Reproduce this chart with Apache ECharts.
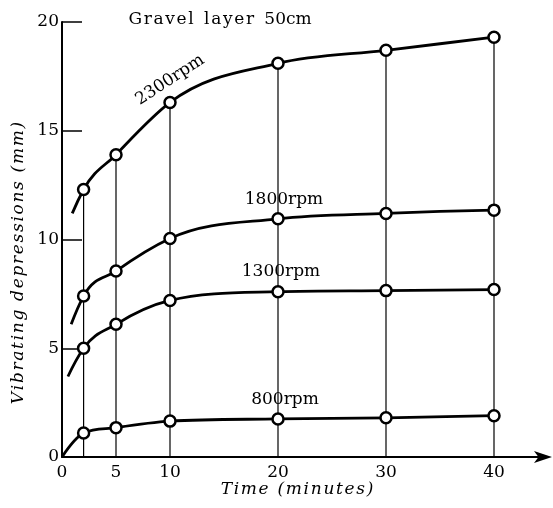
<!DOCTYPE html>
<html><head><meta charset="utf-8">
<script src="https://cdn.jsdelivr.net/npm/echarts@6/dist/echarts.min.js"></script>
<style>html,body{margin:0;padding:0;background:#fff}#c{width:553px;height:508px}</style>
</head><body><div id="c"></div>
<script>
// Data
const times = [2, 5, 10, 20, 30, 40];
const rpm2300 = [12.3, 13.9, 16.3, 18.1, 18.7, 19.3];
const rpm1800 = [7.4, 8.55, 10.05, 10.95, 11.2, 11.35];
const rpm1300 = [5.0, 6.1, 7.2, 7.6, 7.65, 7.7];
const rpm800 = [1.1, 1.35, 1.65, 1.75, 1.8, 1.9];
// curve starting points (no markers)
const start2300 = [0.95, 11.2];
const start1800 = [0.85, 6.1];
const start1300 = [0.55, 3.7];
const start800 = [0, 0];
const xTickLabels = [0, 5, 10, 20, 30, 40];
const seriesNames = ['2300rpm', '1800rpm', '1300rpm', '800rpm'];
const titleText = 'Gravel layer 50cm';
const xName = 'Time (minutes)';
const yName = 'Vibrating depressions (mm)';

const FONT = 'DejaVu Serif';
const spaced = s => s.split('').join('\u200A');

// monotone cubic path through pixel points
function monotonePath(P) {
  const n = P.length;
  const h = [], d = [];
  for (let i = 0; i < n - 1; i++) {
    h.push(P[i + 1][0] - P[i][0]);
    d.push((P[i + 1][1] - P[i][1]) / h[i]);
  }
  const m = new Array(n);
  for (let i = 1; i < n - 1; i++) {
    if (d[i - 1] * d[i] <= 0) m[i] = 0;
    else {
      let v = (h[i] * d[i - 1] + h[i - 1] * d[i]) / (h[i - 1] + h[i]);
      const lim = 3 * Math.min(Math.abs(d[i - 1]), Math.abs(d[i]));
      if (Math.abs(v) > lim) v = Math.sign(v) * lim;
      m[i] = v;
    }
  }
  function endSlope(h0, h1, d0, d1) {
    let s = ((2 * h0 + h1) * d0 - h0 * d1) / (h0 + h1);
    if (s * d0 <= 0) s = 0;
    else if (Math.abs(s) > Math.abs(3 * d0)) s = 3 * d0;
    return s;
  }
  m[0] = n > 2 ? endSlope(h[0], h[1], d[0], d[1]) : d[0];
  m[n - 1] = n > 2 ? endSlope(h[n - 2], h[n - 3], d[n - 2], d[n - 3]) : d[n - 2];
  let s = 'M' + P[0][0] + ' ' + P[0][1];
  for (let i = 0; i < n - 1; i++) {
    const k = h[i] / 3;
    s += ' C' + (P[i][0] + k) + ' ' + (P[i][1] + m[i] * k) + ' ' +
      (P[i + 1][0] - k) + ' ' + (P[i + 1][1] - m[i + 1] * k) + ' ' +
      P[i + 1][0] + ' ' + P[i + 1][1];
  }
  return s;
}

function curve(name, start, vals) {
  const pts = [start].concat(times.map((t, i) => [t, vals[i]]));
  return {
    name, type: 'custom', data: pts, encode: { x: 0, y: 1 }, z: 4, animation: false, silent: true,
    renderItem: (params, api) => {
      if (params.dataIndex !== 0) return null;
      const px = pts.map(p => api.coord(p));
      return { type: 'path', shape: { pathData: monotonePath(px) }, style: { stroke: '#000', fill: 'none', lineWidth: 2.8 } };
    }
  };
}
function markers(vals) {
  return {
    type: 'scatter', data: times.map((t, i) => [t, vals[i]]), symbol: 'circle', symbolSize: 11,
    itemStyle: { color: '#fff', borderColor: '#000', borderWidth: 2.5, opacity: 1 }, z: 6, animation: false, silent: true
  };
}
const verticals = times.map((t, i) => ({
  type: 'line', data: [[t, 0], [t, rpm2300[i]]], symbol: 'none',
  lineStyle: { color: '#000', width: 1.2 }, z: 2, animation: false, silent: true
}));

const chart = echarts.init(document.getElementById('c'));
chart.setOption({
  backgroundColor: '#fff',
  animation: false,
  grid: { left: 62, top: 22, right: 5, bottom: 51, containLabel: false, outerBoundsMode: 'none' },
  xAxis: {
    type: 'value', min: 0, max: 45, interval: 5,
    axisLine: { lineStyle: { color: '#000', width: 2 }, symbol: ['none', 'arrow'], symbolSize: [9, 18], symbolOffset: [0, 4] },
    axisTick: { show: false },
    splitLine: { show: false },
    axisLabel: {
      color: '#000', fontFamily: FONT, fontSize: 17, margin: 7,
      formatter: v => xTickLabels.includes(v) ? String(v) : ''
    }
  },
  yAxis: {
    type: 'value', min: 0, max: 20, interval: 5,
    axisLine: { lineStyle: { color: '#000', width: 2 } },
    axisTick: { inside: true, length: 20, lineStyle: { color: '#000', width: 1.5 } },
    splitLine: { show: false },
    axisLabel: { color: '#000', fontFamily: FONT, fontSize: 17, margin: 3 }
  },
  series: [
    ...verticals,
    curve(seriesNames[0], start2300, rpm2300),
    curve(seriesNames[1], start1800, rpm1800),
    curve(seriesNames[2], start1300, rpm1300),
    curve(seriesNames[3], start800, rpm800),
    markers(rpm2300), markers(rpm1800), markers(rpm1300), markers(rpm800)
  ],
  graphic: [
    { type: 'text', x: 220, y: 20, style: { text: 'G\u200Ar\u200Aa\u200Av\u200Ae\u200Al\u2002\u200Al\u200Aa\u200Ay\u200Ae\u200Ar\u2002\u200A50cm', font: '17px "DejaVu Serif"', fill: '#000', align: 'center', verticalAlign: 'middle' } },
    { type: 'text', x: 170, y: 80, rotation: 0.58, style: { text: seriesNames[0], font: '17px "DejaVu Serif"', fill: '#000', align: 'center', verticalAlign: 'middle' } },
    { type: 'text', x: 284, y: 200, style: { text: seriesNames[1], font: '17px "DejaVu Serif"', fill: '#000', align: 'center', verticalAlign: 'middle' } },
    { type: 'text', x: 281, y: 272, style: { text: seriesNames[2], font: '17px "DejaVu Serif"', fill: '#000', align: 'center', verticalAlign: 'middle' } },
    { type: 'text', x: 285, y: 400, style: { text: seriesNames[3], font: '17px "DejaVu Serif"', fill: '#000', align: 'center', verticalAlign: 'middle' } },
    { type: 'text', x: 297, y: 490, style: { text: spaced(xName), font: 'italic 17px "DejaVu Serif"', fill: '#000', align: 'center', verticalAlign: 'middle' } },
    { type: 'text', x: 19, y: 263, rotation: Math.PI / 2, style: { text: spaced(yName), font: 'italic 17px "DejaVu Serif"', fill: '#000', align: 'center', verticalAlign: 'middle' } }
  ]
});
</script></body></html>
